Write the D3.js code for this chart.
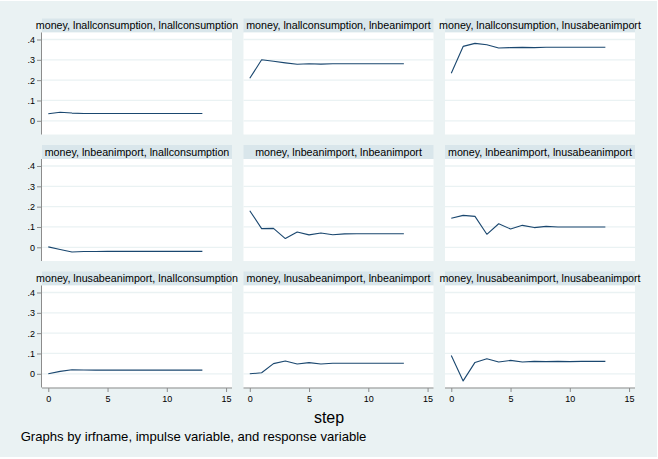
<!DOCTYPE html>
<html><head><meta charset="utf-8">
<script src="https://cdn.jsdelivr.net/npm/d3@7"></script>
<style>html,body{margin:0;padding:0;background:#fff;}svg{display:block;}</style>
</head><body>
<script>
// ---- data ----
const steps = [0,1,2,3,4,5,6,7,8,9,10,11,12,13];
const panelTitles = [
  "money, lnallconsumption, lnallconsumption",
  "money, lnallconsumption, lnbeanimport",
  "money, lnallconsumption, lnusabeanimport",
  "money, lnbeanimport, lnallconsumption",
  "money, lnbeanimport, lnbeanimport",
  "money, lnbeanimport, lnusabeanimport",
  "money, lnusabeanimport, lnallconsumption",
  "money, lnusabeanimport, lnbeanimport",
  "money, lnusabeanimport, lnusabeanimport"
];
const irfAllAll   = [0.035,0.042,0.038,0.036,0.036,0.036,0.036,0.036,0.036,0.036,0.036,0.036,0.036,0.036];
const irfAllBean  = [0.209,0.300,0.293,0.285,0.278,0.281,0.279,0.281,0.281,0.281,0.281,0.281,0.281,0.281];
const irfAllUsa   = [0.234,0.366,0.381,0.374,0.358,0.360,0.361,0.360,0.362,0.362,0.362,0.362,0.362,0.362];
const irfBeanAll  = [0.002,-0.011,-0.023,-0.021,-0.021,-0.020,-0.020,-0.020,-0.020,-0.020,-0.020,-0.020,-0.020,-0.020];
const irfBeanBean = [0.180,0.092,0.093,0.043,0.075,0.061,0.070,0.062,0.066,0.067,0.067,0.067,0.067,0.067];
const irfBeanUsa  = [0.143,0.157,0.152,0.064,0.116,0.090,0.108,0.097,0.103,0.100,0.100,0.100,0.100,0.100];
const irfUsaAll   = [0.000,0.012,0.020,0.019,0.018,0.018,0.018,0.018,0.018,0.018,0.018,0.018,0.018,0.018];
const irfUsaBean  = [0.000,0.005,0.050,0.063,0.048,0.055,0.048,0.052,0.052,0.052,0.052,0.052,0.052,0.052];
const irfUsaUsa   = [0.090,-0.035,0.056,0.074,0.058,0.066,0.058,0.061,0.060,0.061,0.060,0.061,0.061,0.061];
const yTicks = [0,0.1,0.2,0.3,0.4];
const yTickLabels = ["0",".1",".2",".3",".4"];
const xTicks = [0,5,10,15];
const xLabel = "step";
const note = "Graphs by irfname, impulse variable, and response variable";

const series = [irfAllAll,irfAllBean,irfAllUsa,irfBeanAll,irfBeanBean,irfBeanUsa,irfUsaAll,irfUsaBean,irfUsaUsa];

// ---- layout ----
const W = 658, H = 459;
const colLeft = [42, 243.5, 445];
const rowTop = [32.5, 159, 285.5];
const pw = 190, ph = 102, stripH = 14;
const font = "'Liberation Sans', Arial, sans-serif";

const svg = d3.select("body").append("svg").attr("width", W).attr("height", H);
svg.append("rect").attr("x",0).attr("y",0).attr("width",W).attr("height",H).attr("fill","#fff");
svg.append("rect").attr("x",0).attr("y",1).attr("width",657).attr("height",456).attr("fill","#eaf2f3");

series.forEach((vals, i) => {
  const r = Math.floor(i/3), c = i%3;
  const left = colLeft[c], top = rowTop[r];
  const x = d3.scaleLinear().domain([-0.53, 15.5]).range([left, left+pw]);
  const y = d3.scaleLinear().domain([-0.0674, 0.4344]).range([top+ph, top]);
  const g = svg.append("g");
  // strip
  g.append("rect").attr("x",left).attr("y",top-stripH).attr("width",pw).attr("height",stripH).attr("fill","#d9e6eb");
  g.append("text").attr("x",left+pw/2).attr("y",top-stripH/2).attr("dy","0.36em")
    .attr("text-anchor","middle").attr("font-family",font).attr("font-size",10.7).attr("fill","#000")
    .text(panelTitles[i]);
  // plot region
  g.append("rect").attr("x",left).attr("y",top).attr("width",pw).attr("height",ph).attr("fill","#fff");
  // gridlines
  g.selectAll("line.grid").data(yTicks).enter().append("line")
    .attr("x1",left).attr("x2",left+pw).attr("y1",d=>y(d)).attr("y2",d=>y(d))
    .attr("stroke","#eaf2f3").attr("stroke-width",1.3);
  // y axis on left column
  if (c===0) {
    const ax = d3.axisLeft(y).tickValues(yTicks).tickSize(4.5).tickPadding(2)
      .tickFormat((d,k)=>yTickLabels[k]);
    const ag = g.append("g").attr("transform",`translate(${left-0.5},0)`).call(ax);
    ag.select(".domain").attr("d",`M-4.5,${top}H0V${top+ph}`).attr("stroke","none");
    ag.append("line").attr("x1",0).attr("x2",0).attr("y1",top).attr("y2",top+ph).attr("stroke","#8c8c8c");
    ag.selectAll(".tick line").attr("stroke","#8c8c8c");
    ag.selectAll("text").attr("font-family",font).attr("font-size",9).attr("fill","#000");
  }
  // x axis on bottom row
  if (r===2) {
    const ax = d3.axisBottom(x).tickValues(xTicks).tickSize(4).tickPadding(4).tickFormat(d3.format("d"));
    const ag = g.append("g").attr("transform",`translate(0,${top+ph+0.5})`).call(ax);
    ag.select(".domain").attr("stroke","none");
    ag.append("line").attr("x1",left).attr("x2",left+pw).attr("y1",0).attr("y2",0).attr("stroke","#8c8c8c");
    ag.selectAll(".tick line").attr("stroke","#8c8c8c");
    ag.selectAll("text").attr("font-family",font).attr("font-size",9).attr("fill","#000");
  }
  // line
  const line = d3.line().x((d,k)=>x(steps[k])).y(d=>y(d));
  g.append("path").datum(vals).attr("d",line).attr("fill","none")
    .attr("stroke","#1a476f").attr("stroke-width",1.1).attr("stroke-linejoin","round");
});

svg.append("text").attr("x",329).attr("y",422.7).attr("text-anchor","middle")
  .attr("font-family",font).attr("font-size",16).attr("fill","#000").text(xLabel);
svg.append("text").attr("x",20.7).attr("y",440.7)
  .attr("font-family",font).attr("font-size",13.1).attr("fill","#000").text(note);
</script>
</body></html>
